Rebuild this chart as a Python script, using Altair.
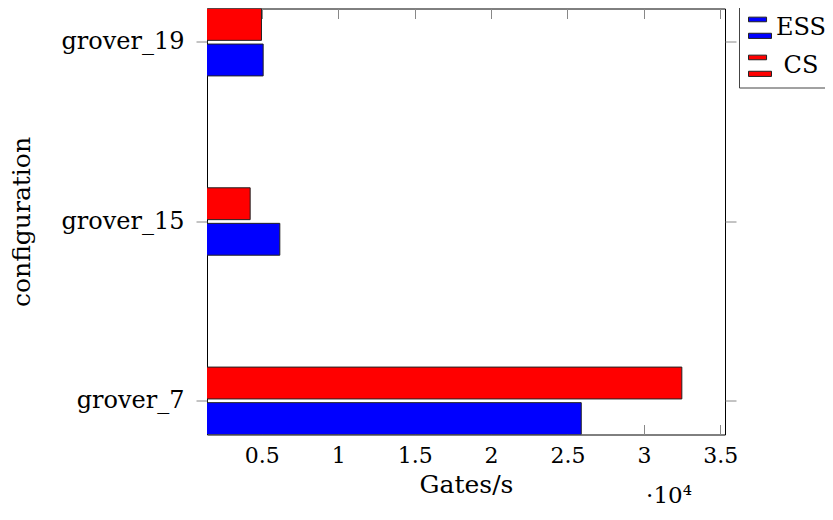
import altair as alt
import pandas as pd

configs = ["grover_7", "grover_15", "grover_19"]
ess_values = [25900, 6180, 5090]
cs_values = [32480, 4240, 4980]
series_names = ["ESS", "CS"]
series_colors = ["#0000ff", "#ff0000"]
x_tick_values = [5000, 10000, 15000, 20000, 25000, 30000, 35000]
scale_note = ["·10⁴"]

rows = []
for c, e, s in zip(configs, ess_values, cs_values):
    rows.append({"configuration": c, "series": "ESS", "value": e})
    rows.append({"configuration": c, "series": "CS", "value": s})
df = pd.DataFrame(rows)

FONT = "DejaVu Serif"
x_scale = alt.Scale(domain=[1416, 35304], nice=False, zero=False)
y_order = ["grover_19", "grover_15", "grover_7"]


def y_enc(axis):
    return alt.Y("configuration:N", sort=y_order,
                 scale=alt.Scale(paddingInner=0.624, paddingOuter=0),
                 axis=axis)


bars = alt.Chart(df).mark_bar(stroke="#222222", strokeWidth=1, clip=True).encode(
    x=alt.X("value:Q", scale=x_scale,
            axis=alt.Axis(orient="bottom", values=x_tick_values,
                          labelExpr="datum.value / 10000", ticks=False, tickSize=0,
                          labelFontSize=22, labelPadding=11,
                          title="Gates/s", titlePadding=6)),
    y=y_enc(alt.Axis(orient="left", ticks=True, tickSize=11, labelFontSize=24,
                     labelPadding=12, title="configuration", titlePadding=26)),
    yOffset=alt.YOffset("series:N", sort=["CS", "ESS"],
                        scale=alt.Scale(paddingInner=0.104, paddingOuter=0)),
    color=alt.Color("series:N",
                    scale=alt.Scale(domain=series_names, range=series_colors),
                    legend=alt.Legend(
                        title=None, orient="none", legendX=532, legendY=-2,
                        direction="vertical",
                        symbolType="M-1,-0.9H0.57V-0.5H-1Z M-1,0.5H1V0.95H-1Z",
                        symbolSize=529, symbolStrokeColor="#222222",
                        symbolStrokeWidth=1, symbolOpacity=1,
                        labelFont=FONT, labelFontSize=24, labelColor="black",
                        labelAlign="center", labelOffset=29, rowPadding=12,
                        padding=9, strokeColor="#444444", fillColor="white")),
)

ticks_bottom = alt.Chart(df).mark_bar(opacity=0, clip=True).encode(
    x=alt.X("value:Q", scale=x_scale,
            axis=alt.Axis(orient="bottom", values=x_tick_values, labels=False,
                          ticks=True, tickSize=10, offset=-10, title=None)),
    y=y_enc(None),
)

ticks_top = alt.Chart(df).mark_bar(opacity=0, clip=True).encode(
    x=alt.X("value:Q", scale=x_scale,
            axis=alt.Axis(orient="top", values=x_tick_values, labels=False,
                          ticks=True, tickSize=10, offset=-10, title=None)),
    y=y_enc(None),
)

ticks_right = alt.Chart(df).mark_bar(opacity=0, clip=True).encode(
    x=alt.X("value:Q", scale=x_scale, axis=None),
    y=y_enc(alt.Axis(orient="right", labels=False, ticks=True, tickSize=11,
                     title=None)),
)

note = alt.Chart(pd.DataFrame({"t": scale_note})).mark_text(
    font=FONT, fontSize=23, align="center", baseline="middle", color="black"
).encode(x=alt.value(462), y=alt.value(487), text="t:N")

chart = alt.layer(bars, ticks_bottom, ticks_top, ticks_right, note).resolve_axis(
    x="independent", y="independent"
).properties(
    width=518, height=426,
    autosize=alt.AutoSizeParams(type="none"),
    padding={"left": 199, "top": 0.5, "right": 100, "bottom": 77.5},
).configure_view(
    stroke="black", strokeWidth=1
).configure_axis(
    labelFont=FONT, titleFont=FONT, labelColor="black", titleColor="black",
    titleFontWeight="normal", titleFontSize=25, tickColor="#888888",
    tickWidth=1, domain=False, grid=False,
)

chart.save("out.html", embed_options={"renderer": "svg", "actions": False})
